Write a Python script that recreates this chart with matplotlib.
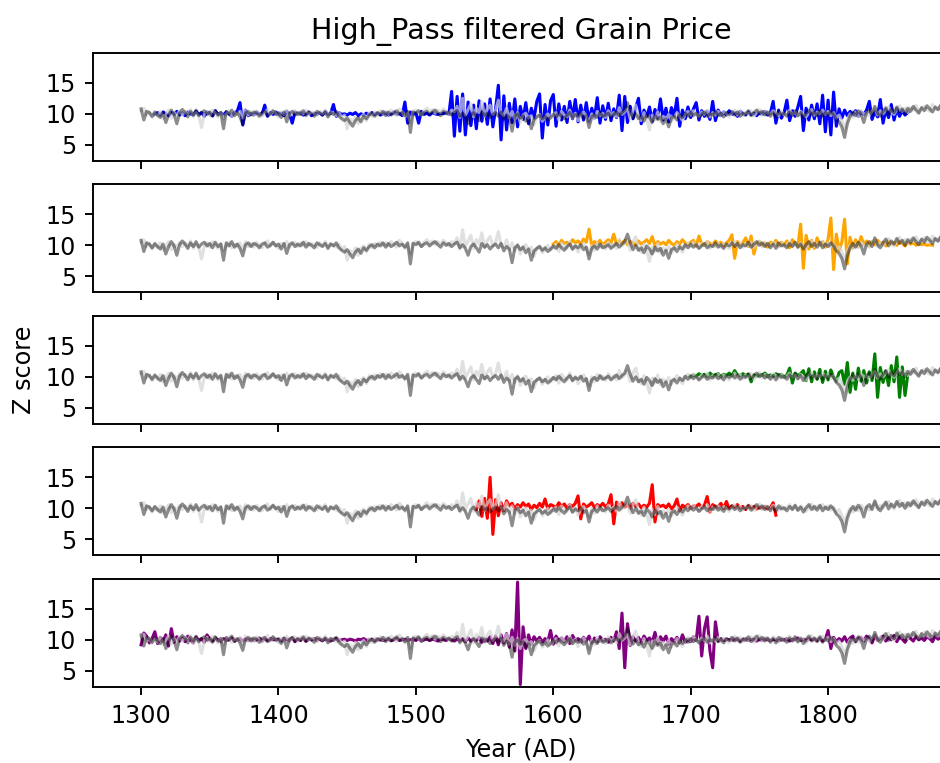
import numpy as np
import matplotlib.pyplot as plt

# Reference grain price series (two stations), two-year steps from 1300
ref_start = 1300
ref_dark = [
    10.8, 9.0, 10.4, 10.2, 9.6, 10.3, 9.8, 9.4, 10.2, 8.6,
    9.8, 10.6, 9.9, 8.4, 10.1, 10.7, 10.2, 9.5, 10.4, 9.8,
    10.6, 9.7, 10.2, 10.5, 9.9, 10.3, 9.6, 10.5, 9.8, 10.2,
    7.6, 10.4, 9.9, 10.6, 9.7, 10.2, 9.5, 8.3, 10.1, 10.4,
    9.8, 10.3, 10.1, 9.6, 10.2, 10.4, 9.7, 10.0, 10.5, 9.9,
    10.2, 9.4, 10.3, 8.7, 10.1, 10.4, 9.8, 10.2, 9.9, 10.5,
    9.7, 10.3, 10.0, 9.6, 10.4, 10.1, 9.8, 10.3, 9.5, 10.2,
    9.9, 10.4, 9.6, 9.2, 8.9, 9.3, 8.6, 8.0, 8.9, 9.4,
    8.7, 9.6, 9.2, 9.8, 10.1, 9.6, 10.2, 9.9, 10.4, 9.7,
    10.3, 9.8, 10.1, 10.5, 9.9, 10.2, 9.7, 10.4, 7.0, 10.3,
    10.1, 10.5, 9.8, 10.2, 10.4, 9.9, 10.3, 10.6, 10.1, 9.7,
    10.4, 10.0, 10.3, 9.8, 10.2, 10.5, 9.6, 10.1, 9.5, 8.4,
    9.8, 10.2, 9.6, 8.9, 10.3, 9.7, 10.1, 9.4, 9.9, 10.2,
    9.6, 10.3, 9.1, 9.8, 9.4, 7.2, 9.6, 10.0, 9.3, 9.7,
    8.8, 9.4, 7.6, 9.1, 9.5, 9.8, 9.2, 9.6, 9.0, 9.4,
    9.9, 9.5, 10.1, 9.6, 9.2, 9.8, 10.2, 9.4, 9.9, 9.6,
    10.1, 9.3, 9.7, 7.8, 9.5, 9.9, 9.4, 10.2, 9.6, 9.8,
    10.1, 9.5, 9.9, 10.3, 9.7, 10.2, 10.6, 11.8, 10.4, 9.3,
    10.0, 9.2, 9.6, 8.8, 9.9, 9.4, 8.6, 9.7, 9.1, 9.5,
    8.4, 9.2, 7.9, 9.3, 9.6, 9.0, 9.8, 9.4, 10.1, 9.6,
    10.2, 9.7, 10.1, 9.5, 9.9, 10.3, 9.6, 10.0, 9.8, 10.4,
    9.7, 10.1, 9.5, 10.2, 9.9, 10.4, 9.8, 10.3, 9.6, 10.1,
    9.9, 10.5, 9.7, 10.2, 10.6, 10.0, 10.4, 9.8, 10.3, 9.6,
    10.2, 9.5, 10.4, 9.9, 10.1, 9.6, 10.3, 9.8, 10.5, 9.7,
    10.2, 9.4, 10.1, 10.6, 9.8, 10.3, 9.7, 10.5, 9.6, 10.2,
    9.8, 10.4, 9.9, 9.1, 8.7, 7.9, 6.2, 8.4, 9.6, 10.3,
    9.7, 10.5, 9.9, 8.6, 10.2, 10.6, 9.8, 11.2, 10.1, 9.6,
    10.4, 11.0, 9.9, 10.7, 10.2, 11.1, 10.3, 10.8, 10.0, 10.9,
    10.4, 11.2, 10.6, 10.1, 11.0, 10.5, 11.3, 10.8, 10.3, 11.1,
    10.7, 11.4, 10.4, 10.9, 11.2, 10.8,
]
ref_light = [
    10.5, 10.9, 9.8, 10.3, 9.4, 10.1, 9.6, 10.4, 9.2, 9.9,
    10.6, 9.3, 10.2, 9.7, 10.5, 9.8, 10.4, 9.9, 10.7, 9.5,
    10.2, 9.6, 7.8, 9.9, 10.4, 9.7, 10.6, 10.1, 9.5, 10.3,
    9.2, 10.0, 10.5, 9.6, 10.2, 9.9, 10.4, 9.3, 10.6, 9.8,
    10.3, 9.7, 10.5, 10.0, 9.6, 10.2, 10.7, 9.8, 10.4, 10.1,
    9.5, 10.3, 9.9, 10.6, 9.7, 10.2, 10.5, 9.8, 10.4, 10.0,
    10.6, 9.9, 10.3, 10.1, 9.7, 10.4, 10.0, 10.6, 9.8, 10.3,
    10.1, 9.7, 10.2, 9.4, 9.8, 7.6, 9.2, 8.7, 9.6, 8.4,
    9.5, 9.9, 8.9, 10.2, 9.6, 10.3, 9.8, 10.5, 10.0, 10.4,
    9.9, 10.6, 10.2, 9.7, 10.8, 10.3, 9.5, 10.1, 8.6, 10.4,
    10.6, 10.2, 9.8, 10.5, 10.9, 10.3, 10.7, 10.1, 10.6, 10.2,
    10.8, 10.4, 9.9, 10.6, 10.3, 11.2, 9.4, 12.5, 9.8, 10.7,
    11.6, 9.5, 10.9, 10.2, 12.0, 9.6, 10.8, 11.4, 9.9, 10.5,
    12.2, 10.1, 9.7, 10.9, 9.3, 10.4, 9.1, 10.2, 8.6, 9.8,
    10.1, 9.3, 9.7, 8.2, 9.5, 9.9, 8.8, 9.4, 10.0, 9.2,
    9.7, 10.2, 9.0, 10.4, 9.8, 9.5, 10.6, 9.3, 10.1, 8.9,
    9.8, 10.3, 9.6, 8.5, 10.0, 9.2, 10.4, 9.7, 10.1, 9.4,
    10.5, 9.8, 10.2, 9.5, 11.0, 9.9, 10.3, 10.9, 9.2, 10.6,
    11.4, 9.5, 8.9, 10.2, 9.1, 7.4, 9.8, 9.0, 10.3, 8.7,
    9.6, 9.1, 9.9, 8.8, 9.4, 10.2, 9.6, 8.9, 9.9, 10.4,
    9.8, 10.5, 10.0, 9.6, 10.3, 9.9, 10.6, 9.5, 10.2, 9.8,
    10.4, 9.7, 10.3, 10.0, 9.5, 10.1, 10.6, 9.8, 10.4, 9.7,
    10.3, 9.9, 10.5, 9.6, 10.2, 10.7, 9.8, 10.4, 10.1, 9.9,
    10.5, 10.2, 9.7, 10.4, 9.8, 10.1, 10.6, 9.9, 10.3, 9.6,
    10.4, 10.0, 9.5, 10.2, 10.7, 9.8, 10.3, 10.0, 10.6, 9.9,
    10.4, 9.7, 10.2, 9.3, 9.8, 8.9, 7.6, 9.1, 10.0, 9.4,
    10.3, 9.6, 10.5, 9.9, 10.2, 9.7, 10.4, 10.9, 9.8, 10.5,
    10.0, 10.6, 11.1, 10.3, 9.9, 10.7, 11.3, 10.4, 10.9, 10.2,
    11.0, 10.6, 11.4, 10.3, 10.8, 11.2, 10.7, 10.4, 11.5, 10.9,
    10.6, 11.3, 10.8, 11.1, 10.5, 11.0,
]

# Regional series: first year and values (two-year steps)
blue_start = 1310
blue_vals = [
    9.9, 10.2, 9.8, 10.3, 10.0, 9.7, 10.2, 9.9, 10.4, 9.8,
    10.1, 9.7, 10.3, 10.0, 9.8, 10.4, 9.9, 10.2, 9.6, 10.3,
    10.0, 9.7, 10.5, 9.9, 10.2, 9.8, 10.3, 10.0, 9.6, 10.2,
    10.4, 11.8, 8.2, 10.6, 9.7, 10.1, 9.8, 10.3, 10.0, 9.9,
    11.4, 9.6, 10.2, 9.9, 10.3, 9.8, 10.1, 9.7, 10.4, 10.0,
    8.5, 10.3, 9.9, 10.2, 9.8, 10.0, 10.3, 9.7, 10.1, 9.9,
    10.2, 9.8, 10.4, 9.9, 10.1, 11.5, 9.6, 10.2, 9.9, 10.0,
    9.8, 10.1, 9.9, 10.2, 9.7, 10.0, 9.8, 10.1, 9.9, 10.2,
    9.9, 10.1, 9.8, 10.0, 10.2, 9.8, 10.0, 10.3, 9.9, 10.1,
    9.7, 11.9, 8.5, 10.3, 9.9, 10.2, 8.5, 10.4, 9.9, 10.1,
    9.8, 10.2, 10.0, 9.9, 10.1, 10.0, 10.3, 9.9, 13.6, 6.4,
    12.8, 7.2, 13.2, 6.6, 11.9, 8.1, 11.4, 7.6, 12.1, 8.8,
    11.6, 8.3, 12.4, 7.9, 10.8, 14.6, 5.8, 12.9, 7.4, 11.7,
    8.6, 12.4, 7.9, 11.2, 9.1, 11.8, 8.4, 10.9, 9.3, 12.0,
    13.2, 6.1, 11.5, 8.2, 12.1, 13.1, 8.0, 11.6, 9.0, 11.2,
    8.6, 12.0, 9.2, 12.3, 8.7, 11.4, 9.0, 11.8, 8.8, 10.9,
    9.3, 12.6, 8.5, 11.3, 9.1, 11.7, 8.9, 10.8, 9.4, 13.0,
    7.3, 12.8, 8.6, 11.2, 9.2, 11.0, 12.5, 8.4, 10.6, 9.5,
    11.1, 8.8, 10.7, 9.3, 12.4, 9.0, 10.9, 8.7, 11.0, 9.6,
    12.5, 8.0, 10.6, 9.2, 11.1, 9.4, 10.8, 11.8, 9.0, 10.5,
    9.6, 10.4, 9.1, 12.0, 8.9, 10.6, 9.7, 10.3, 9.8, 10.5,
    9.9, 10.2, 9.6, 10.4, 10.0, 9.8, 10.3, 9.9, 10.1, 9.7,
    10.2, 9.9, 10.4, 9.8, 10.1, 12.0, 8.5, 10.6, 9.3, 10.2,
    12.2, 8.9, 10.5, 9.6, 11.1, 12.8, 7.3, 10.9, 9.0, 11.4,
    9.2, 11.6, 8.4, 13.0, 7.1, 12.2, 6.6, 13.5, 8.0, 10.8,
    9.3, 10.6, 9.7, 10.4, 9.8, 10.5, 9.6, 10.3, 9.9, 10.6,
    12.0, 9.1, 10.4, 9.5, 12.3, 8.5, 10.7, 9.4, 11.5, 9.0,
    10.8, 9.6, 10.5, 9.8, 10.2,
]
orange_start = 1600
orange_vals = [
    10.2, 10.6, 10.0, 10.8, 10.3, 10.5, 10.1, 10.9, 10.4, 10.7,
    10.2, 11.0, 10.5, 12.6, 9.9, 10.6, 10.3, 10.8, 10.1, 10.5,
    10.9, 10.4, 11.8, 10.2, 10.7, 10.3, 10.8, 10.1, 10.6, 10.4,
    10.0, 10.7, 10.2, 10.5, 10.9, 10.3, 11.4, 9.9, 10.6, 10.2,
    10.5, 10.1, 10.8, 10.3, 10.0, 10.6, 10.2, 10.9, 10.4, 10.1,
    10.5, 10.8, 9.9, 11.5, 10.2, 10.0, 10.6, 10.3, 10.1, 10.7,
    10.2, 10.5, 9.9, 10.4, 10.8, 11.7, 7.9, 10.6, 10.1, 10.4,
    11.2, 9.8, 11.5, 8.6, 10.3, 10.6, 10.0, 10.4, 9.7, 10.5,
    10.2, 10.8, 9.9, 10.5, 10.1, 10.7, 9.6, 10.9, 10.3, 9.8,
    13.4, 6.3, 11.6, 9.4, 10.8, 9.5, 11.2, 10.0, 10.6, 9.7,
    11.0, 14.4, 6.1, 11.8, 9.2, 10.5, 14.2, 7.0, 11.3, 9.6,
    10.9, 9.8, 11.4, 10.2, 10.7, 9.9, 10.6, 10.1, 10.8, 10.3,
    10.5, 9.9, 10.7, 10.2, 10.4, 10.0, 10.6, 10.3, 9.9, 10.5,
    10.2, 10.4, 10.0, 10.3, 10.1, 10.2, 10.0, 10.1, 10.0,
]
green_start = 1700
green_vals = [
    10.0, 10.3, 10.1, 10.5, 10.2, 10.4, 10.1, 10.6, 10.2, 10.3,
    10.5, 10.0, 10.4, 10.2, 10.6, 10.1, 11.0, 10.3, 10.2, 10.5,
    10.2, 10.4, 9.2, 10.3, 10.1, 10.4, 10.2, 10.6, 10.0, 10.3,
    10.1, 10.5, 10.2, 10.4, 9.9, 10.3, 11.4, 9.0, 10.6, 10.2,
    10.5, 11.0, 9.4, 11.3, 9.2, 10.8, 9.6, 11.2, 9.1, 10.9,
    9.5, 11.1, 10.0, 9.3, 10.7, 11.0, 8.8, 12.3, 7.5, 10.6,
    8.0, 11.4, 9.3, 11.0, 9.0, 10.8, 9.4, 13.7, 6.7, 11.5,
    9.1, 10.9, 8.6, 11.8, 9.2, 13.2, 6.7, 11.6, 7.0, 10.4,
]
red_start = 1544
red_vals = [
    9.8, 11.2, 8.7,
    11.6, 8.4, 15.0, 5.8, 11.4, 8.8, 10.9, 9.6, 11.2, 10.4,
    10.8, 9.9, 10.6, 10.2, 10.9, 10.3, 10.7, 9.8, 10.5, 10.1,
    10.8, 10.2, 11.5, 9.9, 10.6, 10.4, 10.1, 10.9, 10.3, 10.7,
    10.0, 10.6, 10.3, 10.8, 12.0, 8.3, 10.7, 10.2, 10.5, 10.9,
    10.1, 10.6, 10.3, 10.8, 10.2, 10.7, 12.2, 7.5, 11.0, 10.4,
    10.9, 10.2, 10.6, 10.0, 10.8, 10.3, 10.7, 10.1, 10.5, 10.2,
    10.8, 13.8, 7.8, 10.6, 10.3, 10.5, 10.1, 10.7, 9.9, 10.4,
    11.5, 9.6, 10.5, 10.2, 10.6, 10.0, 10.4, 10.3, 10.7, 10.1,
    10.5, 11.9, 9.4, 10.6, 10.2, 10.3, 10.8, 10.0, 11.1, 9.9,
    10.4, 10.2, 10.6, 10.1, 10.3, 9.8, 10.4, 10.1, 10.3, 9.9,
    10.2, 10.0, 10.3, 9.9, 10.1, 10.9, 8.9,
]
purple_start = 1300
purple_vals = [
    9.2, 11.1, 10.6, 9.5, 10.2, 11.3, 9.4, 10.4, 9.7, 10.8,
    9.0, 11.8, 9.6, 10.5, 9.8, 10.3, 9.7, 10.6, 10.0, 9.5,
    10.4, 9.9, 10.2, 9.6, 10.8, 10.1, 9.8, 10.3, 10.0, 9.7,
    10.2, 9.9, 10.1, 10.3, 9.8, 10.0, 10.2, 9.8, 10.1, 9.9,
    10.2, 9.9, 10.0, 10.3, 9.8, 10.1, 9.9, 10.2, 10.0, 10.1,
    10.0, 9.8, 10.2, 10.1, 9.9, 10.3, 9.7, 10.1, 9.9, 10.2,
    9.8, 10.1, 10.0, 10.2, 9.9, 10.1, 9.9, 10.2, 10.0, 9.8,
    10.1, 10.2, 9.9, 10.0, 10.1, 9.9, 10.1, 10.0, 9.8, 10.1,
    10.0, 10.2, 9.9, 10.0, 10.1, 9.9, 10.0, 10.1, 9.9, 10.0,
    10.1, 9.9, 10.0, 10.2, 9.9, 10.0, 10.1, 9.9, 10.0, 10.1,
    9.9, 10.2, 9.8, 10.0, 10.1, 9.9, 10.1, 10.0, 9.8, 10.2,
    10.0, 9.9, 10.1, 10.0, 9.8, 10.1, 9.9, 10.2, 9.7, 10.3,
    9.8, 10.1, 9.9, 10.4, 9.6, 10.2, 9.8, 10.5, 9.4, 10.6,
    9.2, 10.8, 9.5, 11.0, 8.8, 11.6, 8.2, 19.3, 2.8, 12.1,
    8.6, 10.8, 9.3, 10.5, 9.8, 10.4, 9.6, 10.2, 9.7, 11.5,
    9.3, 10.6, 9.8, 10.3, 9.7, 10.5, 9.4, 10.7, 9.9, 10.2,
    9.6, 10.4, 9.8, 10.6, 9.5, 10.3, 9.7, 10.5, 9.9, 10.1,
    9.6, 10.4, 9.8, 11.3, 8.6, 14.3, 5.5, 12.6, 9.1, 10.5,
    9.8, 10.4, 9.5, 10.6, 9.9, 10.3, 9.6, 11.2, 9.4, 10.5,
    9.8, 10.6, 9.3, 10.2, 9.7, 10.4, 9.5, 10.8, 9.6, 10.1,
    9.7, 10.5, 9.9, 13.8, 7.4, 11.8, 13.7, 8.2, 5.5, 12.9,
    9.8, 10.2, 9.9, 10.1, 10.0, 9.9, 10.2, 10.0, 9.8, 10.1,
    10.2, 9.9, 10.1, 10.0, 9.8, 10.1, 9.9, 10.2, 10.0, 9.9,
    10.1, 10.0, 9.8, 10.2, 9.9, 10.2, 9.8, 10.1, 10.0, 10.3,
    9.9, 10.1, 9.8, 10.2, 10.0, 10.1, 9.9, 10.2, 9.8, 10.1,
    11.5, 8.6, 10.4, 9.7, 10.2, 9.8, 10.5, 9.6, 10.3, 10.6,
    9.7, 10.2, 10.4, 9.8, 10.6, 10.1, 9.5, 10.7, 9.9, 10.3,
    10.6, 9.8, 10.4, 10.0, 10.7, 9.7, 10.5, 10.1, 9.6, 10.4,
    10.2, 9.8, 10.6, 10.0, 10.3, 9.9, 10.5, 10.2, 9.7, 10.6,
    10.1, 10.4, 9.8, 10.3, 10.0, 10.2,
]

regions = [
    (blue_start, blue_vals, 'blue'),
    (orange_start, orange_vals, 'orange'),
    (green_start, green_vals, 'green'),
    (red_start, red_vals, 'red'),
    (purple_start, purple_vals, 'purple'),
]


def years(start, vals):
    return start + 2 * np.arange(len(vals))


ref_years = years(ref_start, ref_dark)

DPI = 172
W, H = 940, 763
fig, axes = plt.subplots(5, 1, figsize=((W + 0.01) / DPI, (H + 0.01) / DPI), dpi=DPI,
                         sharex=True, sharey=True)

# panel layout in pixels (the axes run a little past the right edge)
left, width = 93 / W, 856 / W
top_px, h_px, step_px = 53, 108, 131.5
for i, ax in enumerate(axes):
    y0 = 1 - (top_px + i * step_px + h_px) / H
    ax.set_position([left, y0, width, h_px / H])

for ax, (start, vals, col) in zip(axes, regions):
    ax.plot(years(start, vals), vals, color=col, lw=1.3)
    ax.plot(ref_years, ref_light, color='lightgray', alpha=0.7, lw=1.3)
    ax.plot(ref_years, ref_dark, color='black', alpha=0.45, lw=1.3)
    ax.set_yticks([5, 10, 15])

axes[0].set_ylim(2.4, 19.8)
axes[0].set_xlim(1265, 1888)
axes[0].set_title("High_Pass filtered Grain Price")
axes[2].set_ylabel("Z score")
axes[-1].set_xlabel("Year (AD)")

plt.savefig("out.png", dpi=DPI)
plt.close()
